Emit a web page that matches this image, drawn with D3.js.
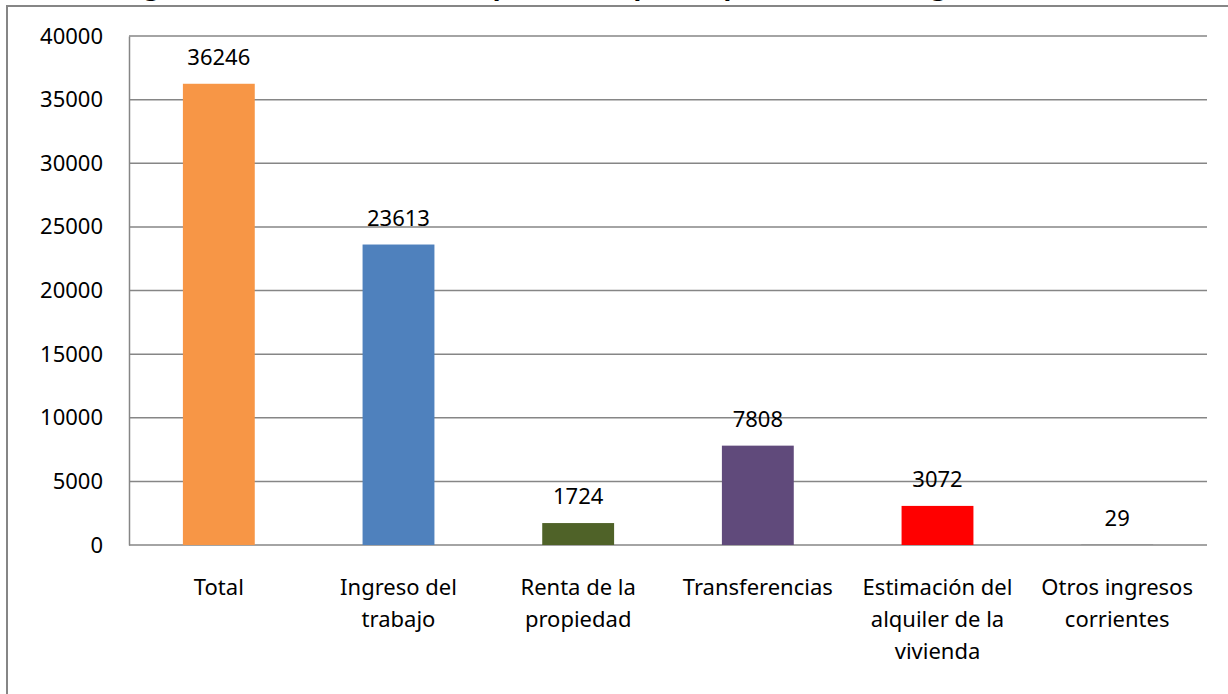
<!DOCTYPE html>
<html>
<head>
<meta charset="utf-8">
<script src="https://cdn.jsdelivr.net/npm/d3@7"></script>
<style>
  body { margin: 0; background: #fff; }
  svg { display: block; }
</style>
</head>
<body>
<div id="app"></div>
<script>
// data
const categories = ["Total", "Ingreso del trabajo", "Renta de la propiedad", "Transferencias",
                    "Estimación del alquiler de la vivienda", "Otros ingresos corrientes"];
const catLines = [["Total"], ["Ingreso del", "trabajo"], ["Renta de la", "propiedad"],
                  ["Transferencias"], ["Estimación del", "alquiler de la", "vivienda"],
                  ["Otros ingresos", "corrientes"]];
const values = [36246, 23613, 1724, 7808, 3072, 29];
const colors = ["#F79646", "#4F81BD", "#4F6228", "#604A7B", "#FF0000", "#7F7F7F"];
const yTicks = [0, 5000, 10000, 15000, 20000, 25000, 30000, 35000, 40000];

const w = 1228;
const h = 694;
const font = "'Noto Sans', 'Open Sans', sans-serif";
const margin = { left: 129, right: 21, top: 36, bottom: 149 };

var svg = d3.select("#app")
  .append("svg")
  .attr("width", w)
  .attr("height", h);

// outer chart frame (only top and left edges fall inside the picture)
svg.append("rect")
  .attr("x", 7)
  .attr("y", 6)
  .attr("width", w + 20)
  .attr("height", h + 20)
  .attr("fill", "none")
  .attr("stroke", "#868686")
  .attr("stroke-width", 2);

// title, cut off by the top of the picture as in the source
svg.append("text")
  .attr("x", 560)
  .attr("y", -5)
  .attr("text-anchor", "middle")
  .attr("font-family", font)
  .attr("font-size", "26px")
  .attr("font-weight", "bold")
  .text("Ingreso corriente monetario promedio (pesos) por fuente de ingreso");

const x = d3.scaleBand()
  .domain(categories)
  .range([margin.left, w - margin.right])
  .paddingInner(0.6)
  .paddingOuter(0.3);

const y = d3.scaleLinear()
  .domain([0, 40000])
  .range([h - margin.bottom, margin.top]);

// gridlines
svg.selectAll("line.grid")
  .data(yTicks)
  .enter()
  .append("line")
  .attr("class", "grid")
  .attr("x1", margin.left)
  .attr("x2", w - margin.right)
  .attr("y1", d => y(d))
  .attr("y2", d => y(d))
  .attr("stroke", "#868686")
  .attr("stroke-width", 1.5);

// y axis
var yAxis = svg.append("g")
  .attr("transform", "translate(" + margin.left + ",0)")
  .call(d3.axisLeft(y).tickValues(yTicks).tickSize(0).tickPadding(26).tickFormat(d3.format("d")));
yAxis.select(".domain").attr("stroke", "#868686").attr("stroke-width", 1.5);
yAxis.selectAll("text")
  .attr("font-family", font)
  .attr("font-size", "22px")
  .attr("fill", "#000");

// bars
svg.selectAll("rect.bar")
  .data(values)
  .enter()
  .append("rect")
  .attr("class", "bar")
  .attr("x", (d, i) => x(categories[i]))
  .attr("y", d => y(d))
  .attr("width", x.bandwidth())
  .attr("height", d => y(0) - y(d))
  .attr("fill", (d, i) => colors[i]);

// value labels
svg.selectAll("text.val")
  .data(values)
  .enter()
  .append("text")
  .attr("class", "val")
  .attr("x", (d, i) => x(categories[i]) + x.bandwidth() / 2)
  .attr("y", d => y(d) - 19)
  .attr("text-anchor", "middle")
  .attr("font-family", font)
  .attr("font-size", "22px")
  .text(d => d);

// category labels
var cat = svg.selectAll("text.cat")
  .data(categories)
  .enter()
  .append("text")
  .attr("class", "cat")
  .attr("x", d => x(d) + x.bandwidth() / 2)
  .attr("y", 595)
  .attr("text-anchor", "middle")
  .attr("font-family", font)
  .attr("font-size", "22px");

cat.selectAll("tspan")
  .data((d, i) => catLines[i])
  .enter()
  .append("tspan")
  .attr("x", function () { return d3.select(this.parentNode).attr("x"); })
  .attr("dy", (d, i) => i === 0 ? 0 : 32)
  .text(d => d);
</script>
</body>
</html>
